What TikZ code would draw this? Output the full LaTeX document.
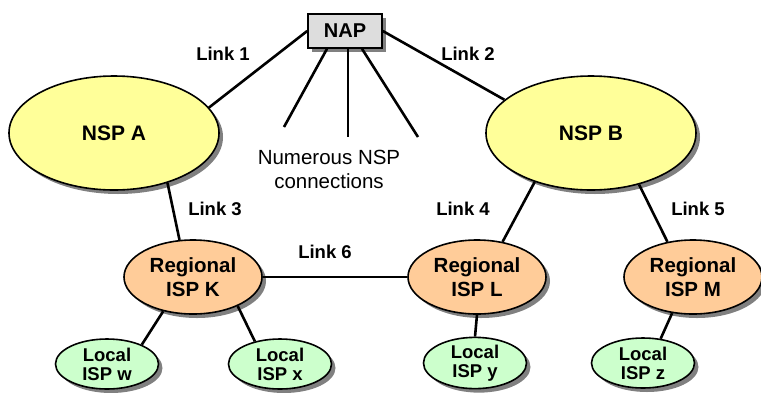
\documentclass[tikz,border=0pt]{standalone}
\usepackage{fontspec}
\setmainfont{Liberation Sans}
\usetikzlibrary{shapes.geometric,shadows}
\definecolor{nspfill}{HTML}{FFFF99}
\definecolor{regfill}{HTML}{FFCC99}
\definecolor{locfill}{HTML}{CCFFCC}
\definecolor{napfill}{HTML}{DDDDDD}
\definecolor{shadowgray}{HTML}{808080}
\begin{document}
\begin{tikzpicture}[x=1pt,y=-1pt,
  shad/.style={drop shadow={shadow xshift=4pt,shadow yshift=-4pt,fill=shadowgray,opacity=1}},
  base/.style={draw,line width=1.6pt,shad,inner sep=0pt,align=center},
  nsp/.style={base,ellipse,fill=nspfill,minimum width=210pt,minimum height=114pt,font=\fontsize{21}{24}\selectfont\bfseries},
  reg/.style={base,ellipse,fill=regfill,minimum width=138pt,minimum height=74pt,font=\fontsize{20.5}{24}\selectfont\bfseries},
  loc/.style={base,ellipse,fill=locfill,minimum width=103pt,minimum height=50pt,font=\fontsize{18.5}{19}\selectfont\bfseries},
  napbox/.style={base,rectangle,fill=napfill,minimum width=74pt,minimum height=34pt,font=\fontsize{20}{24}\selectfont\bfseries},
  link/.style={line width=2.6pt},
  lbl/.style={font=\fontsize{18.5}{22}\selectfont\bfseries},
  note/.style={font=\fontsize{20.5}{24}\selectfont,align=center}
]
\useasboundingbox (0,0) rectangle (761,392);

\node[napbox] (nap) at (345,31) {NAP};
\node[nsp] (nspa) at (114,133) {NSP A};
\node[nsp] (nspb) at (591,133) {NSP B};
\node[reg] (regk) at (193,277) {Regional\\ISP K};
\node[reg] (regl) at (477,277) {Regional\\ISP L};
\node[reg] (regm) at (693,277) {Regional\\ISP M};
\node[loc] (locw) at (107,364) {Local\\ISP w};
\node[loc] (locx) at (280,364) {Local\\ISP x};
\node[loc] (locy) at (475,363) {Local\\ISP y};
\node[loc] (locz) at (643,363) {Local\\ISP z};

\coordinate (c1) at (284,127);
\coordinate (c2) at (348,137);
\coordinate (c3) at (418,137);

\draw[link] (nap.west) -- (nspa.15.6);
\draw[link] (nap.east) -- (nspb.159.7);
\draw[link] ([xshift=-18pt]nap.south) -- (c1);
\draw[link] ([xshift=3pt]nap.south) -- (c2);
\draw[link] ([xshift=17pt]nap.south) -- (c3);
\draw[link] (nspa.-43.4) -- (regk.110);
\draw[link] (nspb.-139.6) -- (regl.54);
\draw[link] (nspb.-47) -- (regm.126);
\draw[link] (regk.east) -- (regl.west);
\draw[link] (regk.-131) -- (locw.29);
\draw[link] (regk.-33) -- (locx.138);
\draw[link] (regl.south) -- (locy.north);
\draw[link] (regm.-120) -- (locz.54);

\node[lbl] (l1) at (223,54) {Link 1};
\node[lbl] (l2) at (468,54) {Link 2};
\node[lbl] (l3) at (215,209) {Link 3};
\node[lbl] (l4) at (463,209) {Link 4};
\node[lbl] (l5) at (698,209) {Link 5};
\node[lbl] (l6) at (325,252) {Link 6};
\node[note] (nn) at (329,169) {Numerous NSP\\connections};
\end{tikzpicture}
\end{document}
